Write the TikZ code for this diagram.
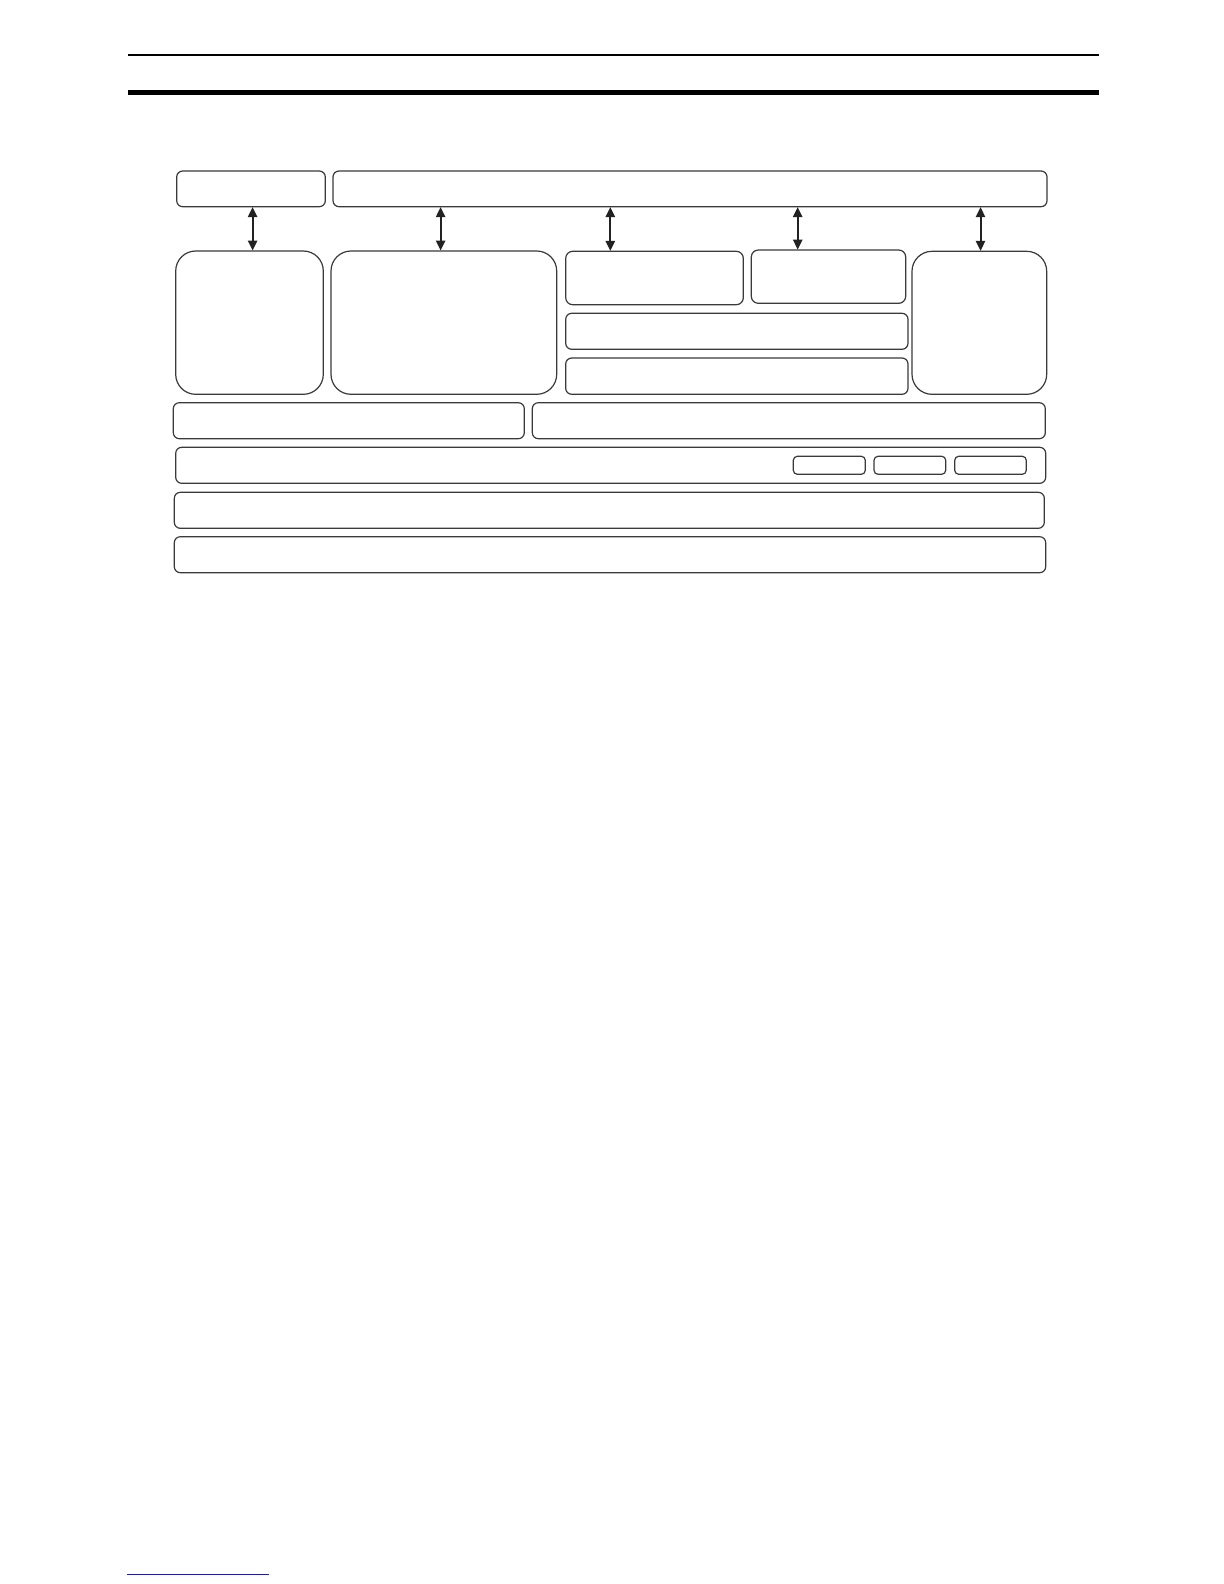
\documentclass[tikz,border=0pt]{standalone}
\usetikzlibrary{arrows.meta}
\definecolor{boxline}{HTML}{3A3A3A}
\definecolor{arrowcol}{HTML}{222222}
\definecolor{linkblue}{HTML}{1F1F99}
\tikzset{
  boxst/.style={draw=boxline, line width=0.6pt, fill=white, inner sep=0pt, outer sep=0pt},
  dbl/.style={draw=arrowcol, line width=1pt,
    {Triangle[length=5pt,width=4.6pt]}-{Triangle[length=5pt,width=4.6pt]}, shorten <=0.2pt, shorten >=0.2pt},
}
\newcommand{\bx}[6]{\node[boxst, rounded corners=#6*0.5pt,
  minimum width={(#4-#2)*0.5pt}, minimum height={(#5-#3)*0.5pt}]
  (#1) at ({(#2+#4)/2},{(#3+#5)/2}) {};}
\begin{document}
\begin{tikzpicture}[x=0.5pt,y=-0.5pt]
\useasboundingbox[fill=white] (0,0) rectangle (1224,1584);
% header rules
\coordinate (hl1) at (128,55);
\coordinate (hr1) at (1099,55);
\coordinate (hl2) at (128,92.4);
\coordinate (hr2) at (1099,92.4);
\draw[black, line width=0.9pt] (hl1) -- (hr1);
\draw[black, line width=2.4pt] (hl2) -- (hr2);
% top boxes
\bx{A}{176.7}{171}{325.3}{206.7}{6}
\bx{B}{333}{171}{1047}{206.7}{6}
% middle boxes
\bx{C}{175.7}{251}{323.3}{394.3}{20}
\bx{D}{331}{251}{556.7}{394.3}{20}
\bx{E}{565.7}{251.3}{743.3}{304.7}{7}
\bx{H}{751.3}{250}{905.7}{303.3}{7}
\bx{I}{565.7}{313.3}{908}{349.3}{6}
\bx{J}{565.7}{358}{908}{394.3}{6}
\bx{K}{912}{251.3}{1046.7}{394.3}{20}
% rows
\bx{F}{173.3}{402.7}{524.3}{438.7}{6}
\bx{G}{532.3}{402.7}{1045.3}{438.7}{6}
\bx{R2}{175.7}{447.3}{1045.7}{483.3}{6}
\bx{S1}{793.3}{456.3}{865.3}{474.3}{4}
\bx{S2}{874}{456.3}{945.7}{474.3}{4}
\bx{S3}{954.7}{456.3}{1026.3}{474.3}{4}
\bx{R3}{174.3}{492.3}{1044.3}{528.3}{6}
\bx{R4}{174.3}{536.7}{1045.7}{572.7}{6}
% arrow columns
\coordinate (ax1) at (252.6,0);
\coordinate (ax2) at (440.6,0);
\coordinate (ax3) at (610.3,0);
\coordinate (ax4) at (797.7,0);
\coordinate (ax5) at (980.5,0);
\draw[dbl] (ax1 |- A.south) -- (ax1 |- C.north);
\draw[dbl] (ax2 |- B.south) -- (ax2 |- D.north);
\draw[dbl] (ax3 |- B.south) -- (ax3 |- E.north);
\draw[dbl] (ax4 |- B.south) -- (ax4 |- H.north);
\draw[dbl] (ax5 |- B.south) -- (ax5 |- K.north);
% footer link rule
\coordinate (fl) at (127.3,1574.8);
\coordinate (fr) at (269,1574.8);
\draw[linkblue, line width=0.6pt] (fl) -- (fr);
\end{tikzpicture}
\end{document}
